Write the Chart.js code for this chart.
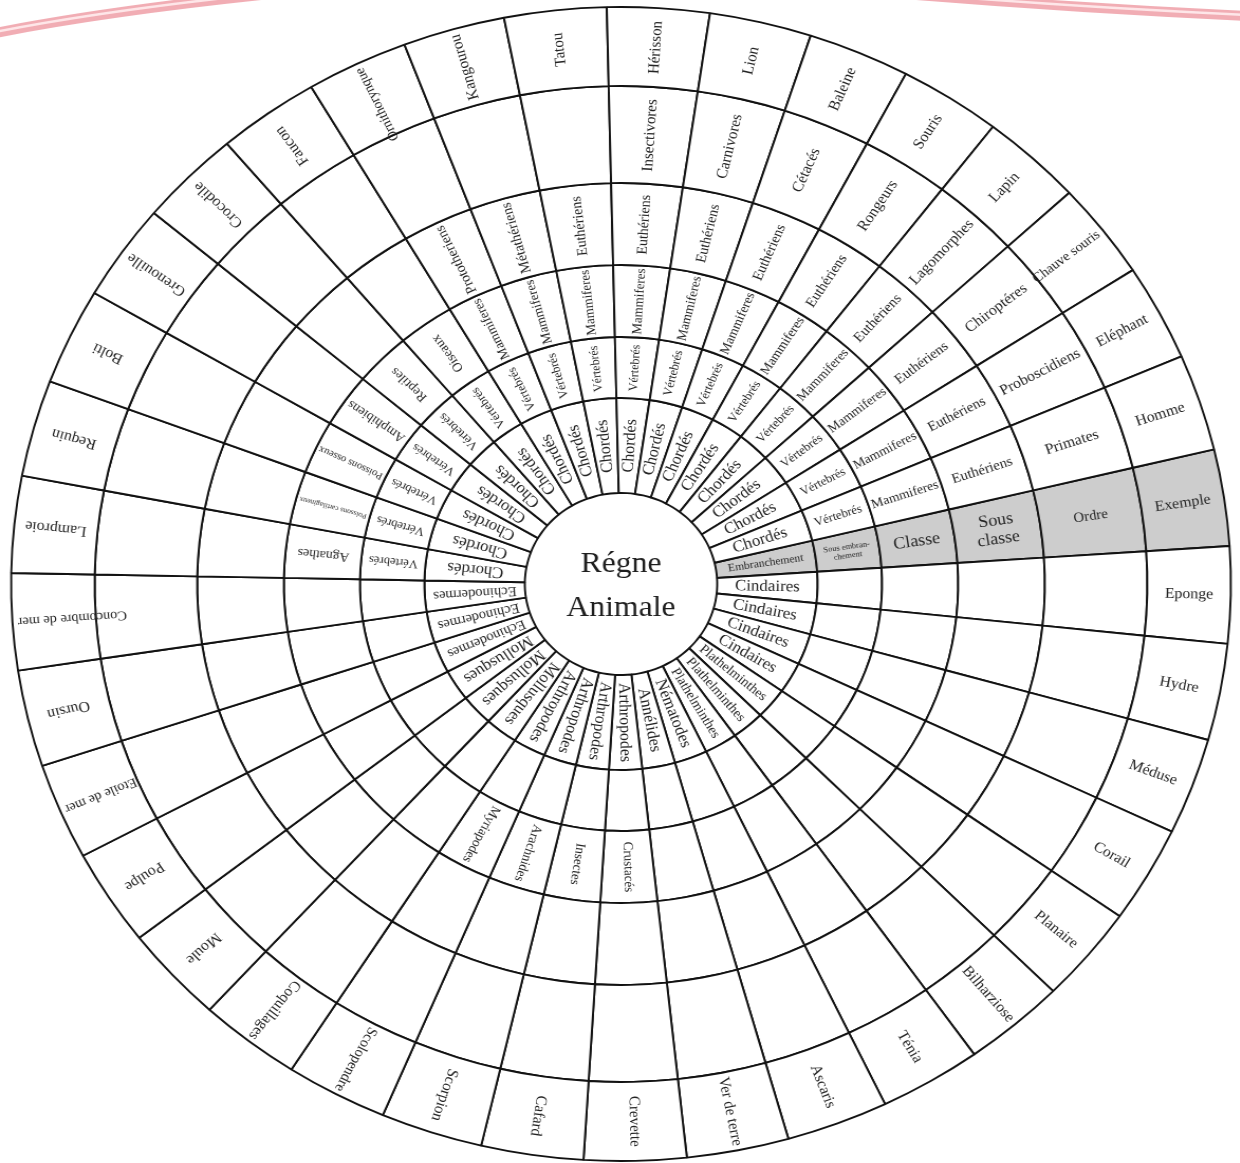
<!DOCTYPE html>
<html lang="fr">
<head>
<meta charset="utf-8">
<title>Régne Animale</title>
<script src="https://cdn.jsdelivr.net/npm/chart.js@4.4.1/dist/chart.umd.min.js"></script>
<style>
  html, body { margin: 0; padding: 0; background: #fff; overflow: hidden; }
  #cadre { width: 1240px; height: 1163px; position: relative; overflow: hidden; }
  #roue { position: absolute; left: 0; top: 0; transform: scaleX(1.057); transform-origin: 0 0; }
</style>
</head>
<body>
<div id="cadre"><canvas id="roue" width="1175" height="1163"></canvas></div>
<script>
// secteurs dans le sens horaire, en partant de la ligne d'en-tête (grisée)
const exemples = ['Exemple', 'Eponge', 'Hydre', 'Méduse', 'Corail', 'Planaire', 'Bilharziose', 'Ténia',
  'Ascaris', 'Ver de terre', 'Crevette', 'Cafard', 'Scorpion', 'Scolopendre', 'Coquillages', 'Moule',
  'Poulpe', 'Etoile de mer', 'Oursin', 'Concombre de mer', 'Lamproie', 'Requin', 'Bolti', 'Grenouille',
  'Crocodile', 'Faucon', 'Ornithorynque', 'Kangourou', 'Tatou', 'Hérisson', 'Lion', 'Baleine', 'Souris',
  'Lapin', 'Chauve souris', 'Eléphant', 'Homme'];

const ordres = ['Ordre', '', '', '', '', '', '', '', '', '', '', '', '', '', '', '', '', '', '', '', '',
  '', '', '', '', '', '', '', '', 'Insectivores', 'Carnivores', 'Cétacés', 'Rongeurs', 'Lagomorphes',
  'Chiroptéres', 'Proboscidiens', 'Primates'];

const sousClasses = ['Sous\nclasse', '', '', '', '', '', '', '', '', '', '', '', '', '', '', '', '', '', '',
  '', '', '', '', '', '', '', 'Prototheriens', 'Métathériens', 'Euthériens', 'Euthériens', 'Euthériens',
  'Euthériens', 'Euthériens', 'Euthériens', 'Euthériens', 'Euthériens', 'Euthériens'];

const classes = ['Classe', '', '', '', '', '', '', '', '', '', 'Crustacés', 'Insectes', 'Arachnides',
  'Myriapodes', '', '', '', '', '', '', 'Agnathes', 'Poissons cartilagineux', 'Poissons osseux',
  'Amphibiens', 'Reptiles', 'Oiseaux', 'Mammiferes', 'Mammiferes', 'Mammiferes', 'Mammiferes',
  'Mammiferes', 'Mammiferes', 'Mammiferes', 'Mammiferes', 'Mammiferes', 'Mammiferes', 'Mammiferes'];

const sousEmbranchements = ['Sous embran-\nchement', '', '', '', '', '', '', '', '', '', '', '', '', '',
  '', '', '', '', '', '', 'Vértebrés', 'Vértebrés', 'Vértebrés', 'Vértebrés', 'Vértebrés', 'Vértebrés',
  'Vértebrés', 'Vértebrés', 'Vértebrés', 'Vértebrés', 'Vértebrés', 'Vértebrés', 'Vértebrés', 'Vértebrés',
  'Vértebrés', 'Vértebrés', 'Vértebrés'];

const embranchements = ['Embranchement', 'Cindaires', 'Cindaires', 'Cindaires', 'Cindaires',
  'Plathelminthes', 'Plathelminthes', 'Plathelminthes', 'Nématodes', 'Annélides', 'Arthropodes',
  'Arthropodes', 'Arthropodes', 'Arthropodes', 'Mollusques', 'Mollusques', 'Mollusques', 'Echinodermes',
  'Echinodermes', 'Echinodermes', 'Chordés', 'Chordés', 'Chordés', 'Chordés', 'Chordés', 'Chordés',
  'Chordés', 'Chordés', 'Chordés', 'Chordés', 'Chordés', 'Chordés', 'Chordés', 'Chordés', 'Chordés',
  'Chordés', 'Chordés'];

// chaque secteur a la même ouverture
const poids = [1, 1, 1, 1, 1, 1, 1, 1, 1, 1, 1, 1, 1, 1, 1, 1, 1, 1, 1, 1, 1, 1, 1, 1, 1, 1, 1, 1, 1, 1,
  1, 1, 1, 1, 1, 1, 1];

const centre = ['Régne', 'Animale'];

// anneaux de l'extérieur vers l'intérieur
const anneaux = [exemples, ordres, sousClasses, classes, sousEmbranchements, embranchements];
const epaisseurs = [79, 97, 82, 72, 61, 95];
const taillePolice = [15, 15, 14, 13, 12, 16];
const tailleEntete = [15, 14, 17, 17, 8, 11];
const marge = [8, 8, 8, 6, 6, 16];

const SX = 1.057;
const POLICE = '"Liberation Serif", "Times New Roman", serif';

function bande(ctx, x0, y0, cx, cy, x1, y1) {
  ctx.strokeStyle = 'rgba(232, 118, 130, 0.6)';
  ctx.lineWidth = 10;
  ctx.beginPath();
  ctx.moveTo(x0 / SX, y0);
  ctx.quadraticCurveTo(cx / SX, cy, x1 / SX, y1);
  ctx.stroke();
  ctx.strokeStyle = 'rgba(255, 236, 238, 0.9)';
  ctx.lineWidth = 2.5;
  ctx.beginPath();
  ctx.moveTo(x0 / SX, y0 - 1);
  ctx.quadraticCurveTo(cx / SX, cy - 1, x1 / SX, y1 - 1);
  ctx.stroke();
}

const decor = {
  id: 'decor',
  beforeDraw(chart) {
    const ctx = chart.ctx;
    ctx.save();
    bande(ctx, -10, 34, 110, 10, 290, -8);
    bande(ctx, 880, -8, 1070, 8, 1250, 16);
    ctx.restore();
  }
};

const etiquettes = {
  id: 'etiquettes',
  afterDatasetsDraw(chart) {
    const ctx = chart.ctx;
    ctx.save();
    ctx.fillStyle = '#242424';
    ctx.textAlign = 'center';
    ctx.textBaseline = 'middle';
    chart.data.datasets.forEach((ds, d) => {
      const meta = chart.getDatasetMeta(d);
      meta.data.forEach((arc, i) => {
        const txt = anneaux[d][i];
        if (!txt) return;
        const p = arc.getProps(['x', 'y', 'startAngle', 'endAngle', 'innerRadius', 'outerRadius'], true);
        const mid = (p.startAngle + p.endAngle) / 2;
        let r = (p.innerRadius + p.outerRadius) / 2;
        const lignes = txt.split('\n');
        let size = i === 0 ? tailleEntete[d] : taillePolice[d];
        ctx.font = size + 'px ' + POLICE;
        const largeur = Math.max(...lignes.map(l => ctx.measureText(l).width));
        const dispo = (p.outerRadius - p.innerRadius) - marge[d];
        if (i !== 0 && largeur > dispo) {
          if (d === 0) {
            // anneau extérieur : on réduit un peu, puis le texte déborde vers l'intérieur
            size = Math.max(13.5, size * dispo / largeur);
            const l2 = largeur * size / taillePolice[d];
            if (l2 > dispo) r = p.outerRadius - 5 - l2 / 2;
          } else {
            size = size * dispo / largeur;
          }
        }
        ctx.font = size + 'px ' + POLICE;
        ctx.save();
        ctx.translate(p.x + Math.cos(mid) * r, p.y + Math.sin(mid) * r);
        ctx.rotate(mid);
        const h = size * 1.1;
        lignes.forEach((l, k) => ctx.fillText(l, 0, (k - (lignes.length - 1) / 2) * h));
        ctx.restore();
      });
    });
    // texte du centre
    const a = chart.getDatasetMeta(0).data[0];
    ctx.font = '30px ' + POLICE;
    ctx.fillStyle = '#1e1e1e';
    ctx.fillText(centre[0], a.x, a.y - 20);
    ctx.fillText(centre[1], a.x, a.y + 24);
    ctx.restore();
  }
};

const gris = '#cdcdcd';
const couleurs = poids.map((v, i) => i === 0 ? gris : '#ffffff');

new Chart(document.getElementById('roue'), {
  type: 'doughnut',
  data: {
    labels: exemples,
    datasets: anneaux.map((a, d) => ({
      data: poids,
      weight: epaisseurs[d],
      backgroundColor: couleurs,
      borderColor: '#121212',
      borderWidth: 1.9,
      hoverOffset: 0
    }))
  },
  options: {
    responsive: false,
    animation: false,
    events: [],
    rotation: 76.5,
    radius: 577,
    cutout: (91 / 577 * 100) + '%',
    layout: { padding: { top: 5 } },
    plugins: {
      legend: { display: false },
      tooltip: { enabled: false }
    }
  },
  plugins: [decor, etiquettes]
});
</script>
</body>
</html>
